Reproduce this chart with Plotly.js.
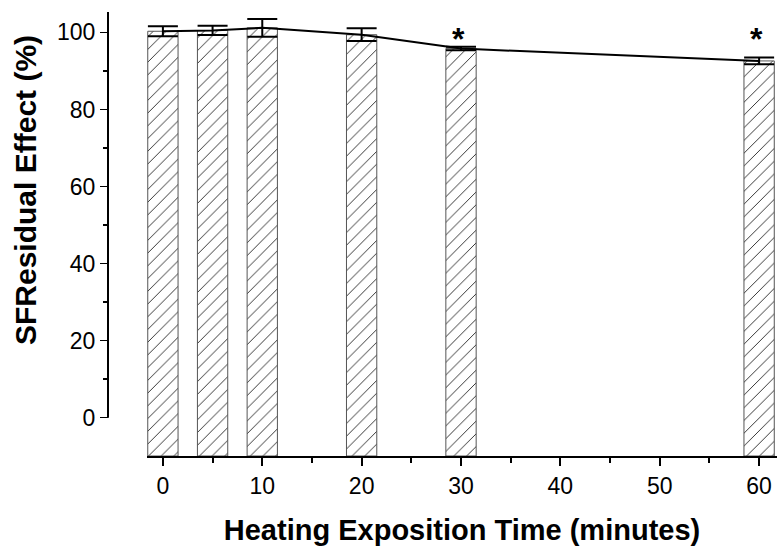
<!DOCTYPE html>
<html>
<head>
<meta charset="utf-8">
<script src="https://cdn.plot.ly/plotly-3.0.1.min.js"></script>
<style>html,body{margin:0;padding:0;background:#fff;}#chart{width:777px;height:547px;}</style>
</head>
<body>
<div id="chart"></div>
<script>
// Data
const times = [0, 5, 10, 20, 30, 60];            // heating exposition time (minutes)
const residual = [100.3, 100.5, 101.2, 99.4, 95.8, 92.6]; // SF residual effect (%)
const errors = [1.3, 1.2, 2.3, 1.65, 0.45, 0.87];          // +/- error
const significant = [30, 60];                   // times marked with *
const xTicks = [0, 10, 20, 30, 40, 50, 60];
const yTicks = [0, 20, 40, 60, 80, 100];

const Y_MIN = -9.94, Y_MAX = 105.3;
const X_MIN = -1.6, X_MAX = 61.8;
const FONT = 'Liberation Sans, Arial, Helvetica, sans-serif';

const bars = {
  type: 'bar',
  x: times,
  y: residual.map(v => v - Y_MIN),
  base: Y_MIN,
  width: 3.05,
  marker: {
    color: 'white',
    line: {color: '#555', width: 1},
    pattern: {shape: '/', fgcolor: '#222', bgcolor: 'white', size: 9, solidity: 0.1}
  },
  hoverinfo: 'skip',
  showlegend: false
};

const line = {
  type: 'scatter',
  mode: 'lines',
  x: times,
  y: residual,
  line: {color: 'black', width: 2},
  error_y: {type: 'data', array: errors, visible: true, color: 'black', thickness: 2, width: 15},
  showlegend: false
};

const stars = significant.map(t => ({
  xref: 'x', yref: 'y', x: t, y: 99.8, text: '*', showarrow: false,
  xshift: -3, yshift: -6, yanchor: 'middle',
  font: {family: FONT, size: 32, color: 'black', weight: 'bold'}
}));

const layout = {
  width: 777, height: 547,
  margin: {l: 108, r: 0, t: 11.7, b: 91, pad: 0},
  paper_bgcolor: 'white', plot_bgcolor: 'white',
  font: {family: FONT, color: 'black'},
  bargap: 0,
  xaxis: {
    domain: [39 / 669, 1],
    range: [X_MIN, X_MAX],
    tickmode: 'array', tickvals: xTicks, ticktext: xTicks.map(String),
    ticks: 'outside', ticklen: 8, tickwidth: 2, tickcolor: 'black',
    minor: {dtick: 5, tick0: 0, ticks: 'outside', ticklen: 5, tickwidth: 2, tickcolor: 'black', showgrid: false},
    showline: true, linecolor: 'black', linewidth: 2,
    showgrid: false, zeroline: false,
    tickfont: {family: FONT, size: 23, color: 'black'},
    title: {text: 'Heating Exposition Time (minutes)', font: {family: FONT, size: 29, color: 'black', weight: 'bold'}, standoff: 22},
    automargin: false,
    fixedrange: true
  },
  yaxis: {
    anchor: 'free', position: 0,
    range: [Y_MIN, Y_MAX],
    tickmode: 'array', tickvals: yTicks, ticktext: yTicks.map(String),
    ticks: 'outside', ticklen: 8, tickwidth: 1.5, tickcolor: 'black',
    minor: {dtick: 10, tick0: 0, ticks: 'outside', ticklen: 5, tickwidth: 1.5, tickcolor: 'black', showgrid: false},
    showline: false, showgrid: false, zeroline: false,
    tickfont: {family: FONT, size: 23, color: 'black'},
    automargin: false,
    fixedrange: true
  },
  shapes: [
    {type: 'line', xref: 'paper', yref: 'y', x0: 0, x1: 0, y0: 0, y1: Y_MAX, line: {color: 'black', width: 2}}
  ],
  annotations: [
    ...stars,
    {xref: 'paper', yref: 'y', x: 0, y: 59.1, xshift: -83, xanchor: 'center', yanchor: 'middle',
     textangle: -90, showarrow: false, text: 'SFResidual Effect (%)',
     font: {family: FONT, size: 30, color: 'black', weight: 'bold'}}
  ]
};

Plotly.newPlot('chart', [bars, line], layout, {displayModeBar: false, staticPlot: true});
</script>
</body>
</html>
